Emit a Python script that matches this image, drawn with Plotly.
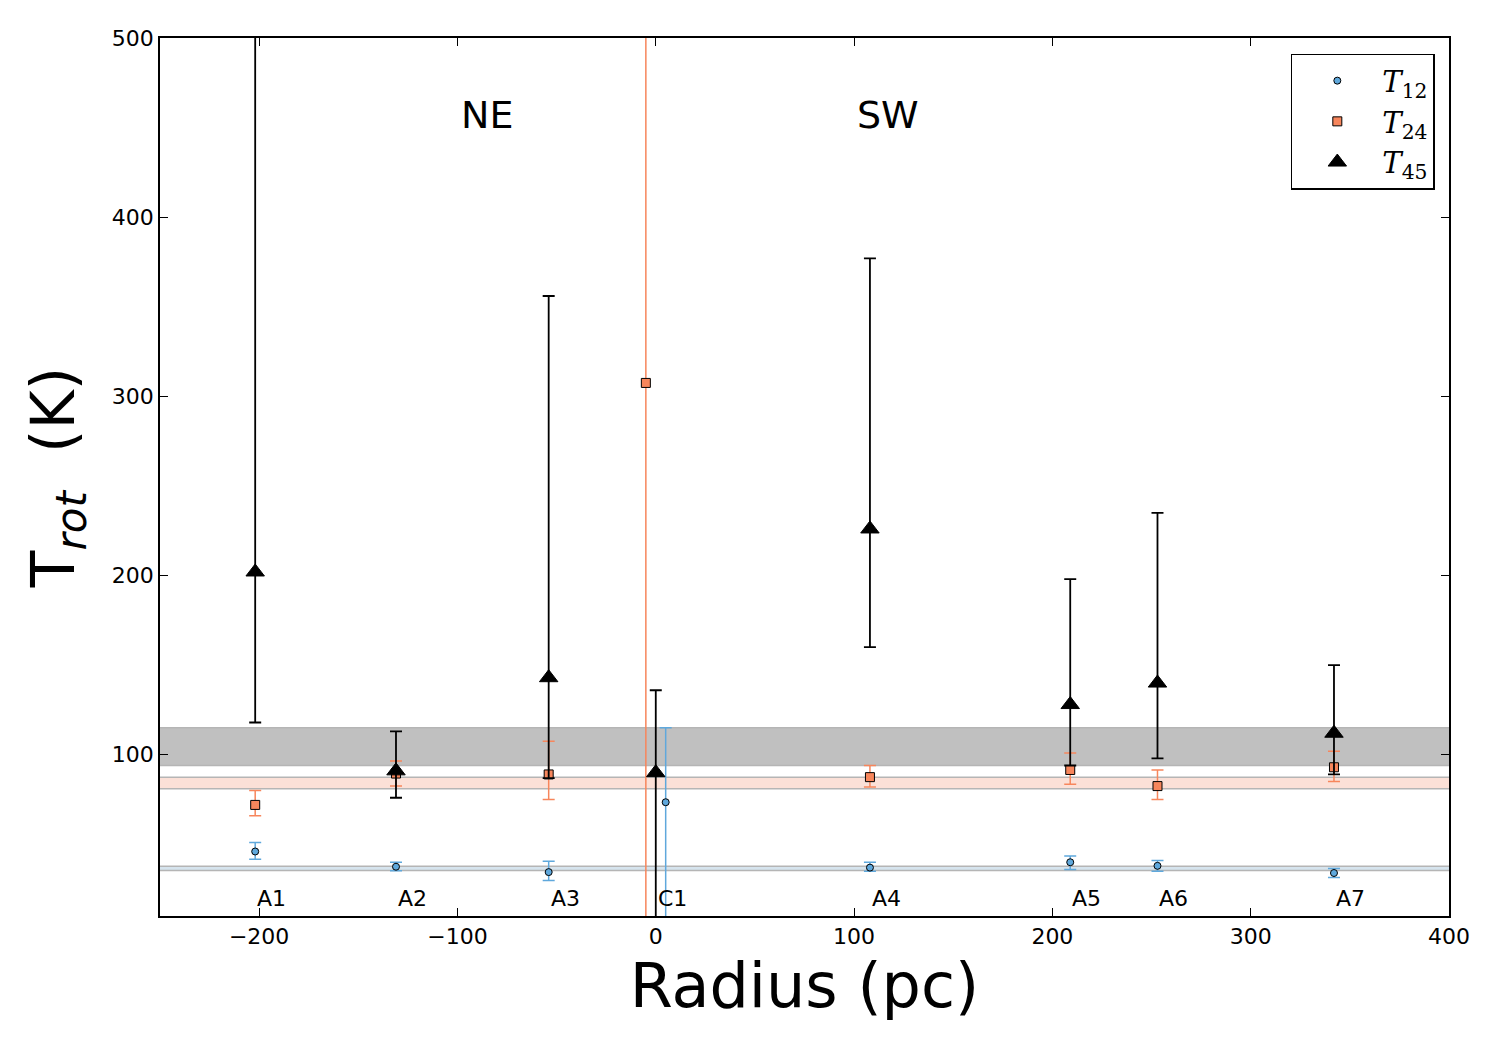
import plotly.graph_objects as go

# ---- data ----
regions = ["A1", "A2", "A3", "C1", "A4", "A5", "A6", "A7"]
label_x = [-202, -131, -54, 0, 108, 209, 253, 342]
label_y = [19.5, 19.5, 19.5, 19.5, 19.5, 19.5, 19.5, 19.5]

x_t12 = [-202, -131, -54, 5, 108, 209, 253, 342]
t12 = [46, 37.5, 34.5, 73.5, 37, 40, 38, 34]
t12_up = [5, 2.5, 6, 41.5, 3, 3.5, 3, 2.5]
t12_lo = [4.3, 2.3, 4.7, 74, 2, 4, 3, 2.5]

x_t24 = [-202, -131, -54, -5, 108, 209, 253, 342]
t24 = [72, 89.5, 89, 307.5, 87.5, 91.5, 82.5, 93]
t24_up = [8, 7, 18.5, 300, 6.5, 9.5, 9, 9]
t24_lo = [6, 7, 14, 310, 5.5, 8, 7.5, 8]

x_t45 = [-202, -131, -54, 0, 108, 209, 253, 342]
t45 = [202, 91, 143, 90, 226, 128, 140, 112]
t45_up = [400, 22, 213, 46, 151, 70, 95, 38]
t45_lo = [84, 15, 56, 90, 66, 34, 42, 23]

# average bands (low, high)
band12 = [35.4, 37.8]
band24 = [81, 87.5]
band45 = [94, 115]

side_labels = ["NE", "SW"]
side_x = [-85, 117]
side_y = [457, 457]

c_blue = "#5fa8dc"
c_orange = "#f7865c"

fig = go.Figure()

fig.add_trace(go.Scatter(
    x=x_t12, y=t12, mode="markers", name="<i>T</i><sub>12</sub>",
    marker=dict(symbol="circle", size=7, color=c_blue, line=dict(color="black", width=1)),
    error_y=dict(type="data", symmetric=False, array=t12_up, arrayminus=t12_lo,
                 color=c_blue, thickness=1.5, width=6),
))
fig.add_trace(go.Scatter(
    x=x_t24, y=t24, mode="markers", name="<i>T</i><sub>24</sub>",
    marker=dict(symbol="square", size=9, color=c_orange, line=dict(color="black", width=1)),
    error_y=dict(type="data", symmetric=False, array=t24_up, arrayminus=t24_lo,
                 color=c_orange, thickness=1.5, width=6),
))
fig.add_trace(go.Scatter(
    x=x_t45, y=t45, mode="markers", name="<i>T</i><sub>45</sub>",
    marker=dict(symbol="triangle-up", size=16, color="black", line=dict(color="black", width=1)),
    error_y=dict(type="data", symmetric=False, array=t45_up, arrayminus=t45_lo,
                 color="black", thickness=1.8, width=6),
))

shapes = []
for (lo, hi), fill in [(band45, "#c0c0c0"), (band24, "#fbe0d7"), (band12, "#d6e4ee")]:
    shapes.append(dict(type="rect", xref="paper", x0=0, x1=1, yref="y", y0=lo, y1=hi,
                       fillcolor=fill, line=dict(width=0), layer="below"))
    for yy in (lo, hi):
        shapes.append(dict(type="line", xref="paper", x0=0, x1=1, yref="y", y0=yy, y1=yy,
                           line=dict(color="#b5b5b5", width=1.5), layer="below"))

annotations = []
for name, xx, yy in zip(regions, label_x, label_y):
    annotations.append(dict(x=xx, y=yy, xref="x", yref="y", text=name, showarrow=False,
                            xanchor="left", yanchor="middle",
                            font=dict(size=22, color="black", family="DejaVu Sans")))
for name, xx, yy in zip(side_labels, side_x, side_y):
    annotations.append(dict(x=xx, y=yy, xref="x", yref="y", text=name, showarrow=False,
                            xanchor="center", yanchor="middle",
                            font=dict(size=38, color="black", family="DejaVu Sans")))

axis_common = dict(showline=True, linecolor="black", linewidth=1.5, mirror="ticks",
                   ticks="inside", ticklen=8, tickwidth=1.2, tickcolor="black",
                   showgrid=False, zeroline=False,
                   tickfont=dict(size=22, color="black", family="DejaVu Sans"))

fig.update_layout(
    width=1500, height=1050,
    paper_bgcolor="white", plot_bgcolor="white",
    margin=dict(l=160, r=51, t=38, b=134),
    shapes=shapes, annotations=annotations,
    xaxis=dict(range=[-250, 400], tickvals=[-200, -100, 0, 100, 200, 300, 400],
               ticktext=["\u2212200", "\u2212100", "0", "100", "200", "300", "400"],
               title=dict(text="Radius (pc)", font=dict(size=62, color="black", family="DejaVu Sans"),
                          standoff=12),
               **axis_common),
    yaxis=dict(range=[10, 500], tickvals=[100, 200, 300, 400, 500],
               title=dict(text="T<sub><i>rot</i></sub>  (K)",
                          font=dict(size=60, color="black", family="DejaVu Sans"), standoff=18),
               **axis_common),
    legend=dict(x=0.989, y=0.982, xanchor="right", yanchor="top",
                bordercolor="black", borderwidth=1.5, bgcolor="white",
                font=dict(size=29, color="black", family="DejaVu Serif"),
                itemwidth=80),
    showlegend=True,
)

fig.write_html("out.html")
